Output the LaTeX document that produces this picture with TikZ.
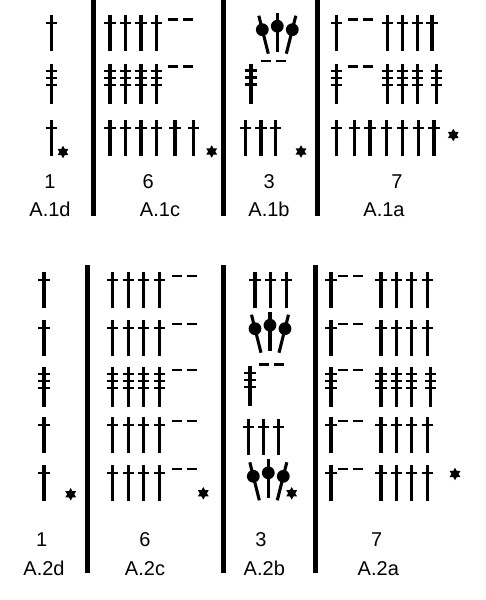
\documentclass[tikz,border=0pt]{standalone}
\usepackage{fontspec}
\setmainfont{Liberation Sans}
\usetikzlibrary{shapes.geometric}
\tikzset{
  stitch/.style={line width=3.1pt, black},
  tick/.style={line width=2.8pt, black},
  bar/.style={line width=5pt, black},
  lbl/.style={anchor=base, inner sep=0pt, font=\fontsize{20}{24}\selectfont},
  starsym/.style={star, star points=6, star point ratio=1.75, fill=black, draw=none, minimum size=12.5pt, inner sep=0pt},
  dcs/.pic={\draw[stitch] (0,0)--(0,35.5); \draw[tick] (-5.7,8)--(5.7,8);},
  trs/.pic={\draw[stitch] (0,0)--(0,40); \foreach \b in {7,14,21} \draw[tick] (-5.7,\b)--(5.7,\b);},
  chs/.pic={\draw[tick] (0,0)--(10,0) (15,0)--(25,0);},
  cluster/.pic={
    \draw[stitch] (0,0)--(0,39);
    \draw[stitch] (-18.5,3)--(-9,41);
    \draw[stitch] (18.5,3)--(9,41);
    \fill (0,13.5) circle (6.4pt);
    \fill (-15,17) circle (6.4pt);
    \fill (15,17) circle (6.4pt);
  }
}
\begin{document}
\begin{tikzpicture}[x=1pt,y=-1pt]
\useasboundingbox (0,0) rectangle (486,600);
% ---------- bars ----------
\draw[bar] (93,0) -- (93,216);
\draw[bar] (223,0) -- (223,216);
\draw[bar] (317,0) -- (317,216);
\draw[bar] (87,265) -- (87,573);
\draw[bar] (223.5,265) -- (223.5,573);
\draw[bar] (315,265) -- (315,573);
% ---------- A.1d ----------
\pic at (51.3,15) {dcs};
\pic at (51.3,64) {trs};
\pic at (51.3,120) {dcs};
\node[starsym] (s1d) at (63,152) {};
% ---------- A.1c ----------
\foreach \x in {110,125.5,141,156.5} {\pic at (\x,15) {dcs}; \pic at (\x,64) {trs};}
\pic at (168.3,19.5) {chs};
\pic at (168.3,66.5) {chs};
\foreach \x in {110,125.5,141,156.5,175,193.3} \pic at (\x,120) {dcs};
\node[starsym] (s1c) at (211.7,151.5) {};
% ---------- A.1b ----------
\pic at (277.3,12.7) {cluster};
\pic at (260.7,61) {chs};
\pic at (251,63.5) {trs};
\foreach \x in {245.7,261,275.7} \pic at (\x,120) {dcs};
\node[starsym] (s1b) at (301,151.5) {};
% ---------- A.1a ----------
\pic at (336.7,15) {dcs};
\pic at (348.3,19.5) {chs};
\foreach \x in {387.7,402.5,417.3,432} \pic at (\x,15) {dcs};
\pic at (336.7,64) {trs};
\pic at (348.3,66.5) {chs};
\foreach \x in {387.7,402.5,417.5,436.7} \pic at (\x,64) {trs};
\foreach \x in {336.7,354.3,370,386.7,402.3,418.3,434} \pic at (\x,120) {dcs};
\node[starsym] (s1a) at (453.3,135) {};
% ---------- top texts ----------
\node[lbl] (n1d) at (50,188.3) {1};
\node[lbl] (n1c) at (148.3,188.3) {6};
\node[lbl] (n1b) at (269.3,188.3) {3};
\node[lbl] (n1a) at (397,188.3) {7};
\node[lbl] (l1d) at (50,216.7) {A.1d};
\node[lbl] (l1c) at (160,216.7) {A.1c};
\node[lbl] (l1b) at (269,216.7) {A.1b};
\node[lbl] (l1a) at (384,216.7) {A.1a};
% ---------- A.2d ----------
\pic at (44,272) {dcs};
\pic at (44,320) {dcs};
\pic at (44,367) {trs};
\pic at (44,417) {dcs};
\pic at (44,465) {dcs};
\node[starsym] (s2d) at (70.7,494.3) {};
% ---------- A.2c ----------
\foreach \x in {112.7,128.3,143.3,159.3} {
  \pic at (\x,272) {dcs}; \pic at (\x,320) {dcs}; \pic at (\x,367) {trs};
  \pic at (\x,417) {dcs}; \pic at (\x,465) {dcs};}
\foreach \y in {276,324,370,421,469} \pic at (171.7,\y) {chs};
\node[starsym] (s2c) at (203.3,493.3) {};
% ---------- A.2b ----------
\foreach \x in {255,270.7,286.7} \pic at (\x,272) {dcs};
\pic at (270,311.7) {cluster};
\pic at (259.3,364.5) {chs};
\pic at (250,366) {trs};
\foreach \x in {248.3,263.3,278.3} \pic at (\x,419) {dcs};
\pic at (268.3,459.3) {cluster};
\node[starsym] (s2b) at (291.7,493.3) {};
% ---------- A.2a ----------
\foreach \y in {272,320,417,465} {
  \pic at (331,\y) {dcs};
  \foreach \x in {381,396.7,411.7,427.3} \pic at (\x,\y) {dcs};}
\pic at (331,367) {trs};
\foreach \x in {381,396.7,411.7,430.7} \pic at (\x,367) {trs};
\foreach \y in {276,324,370,421,469} \pic at (338.3,\y) {chs};
\node[starsym] (s2a) at (455,474) {};
% ---------- bottom texts ----------
\node[lbl] (n2d) at (41.7,546) {1};
\node[lbl] (n2c) at (145,546) {6};
\node[lbl] (n2b) at (261,546) {3};
\node[lbl] (n2a) at (376.7,546) {7};
\node[lbl] (l2d) at (44,575) {A.2d};
\node[lbl] (l2c) at (145,575) {A.2c};
\node[lbl] (l2b) at (264.3,575) {A.2b};
\node[lbl] (l2a) at (378.3,575) {A.2a};
\end{tikzpicture}
\end{document}
